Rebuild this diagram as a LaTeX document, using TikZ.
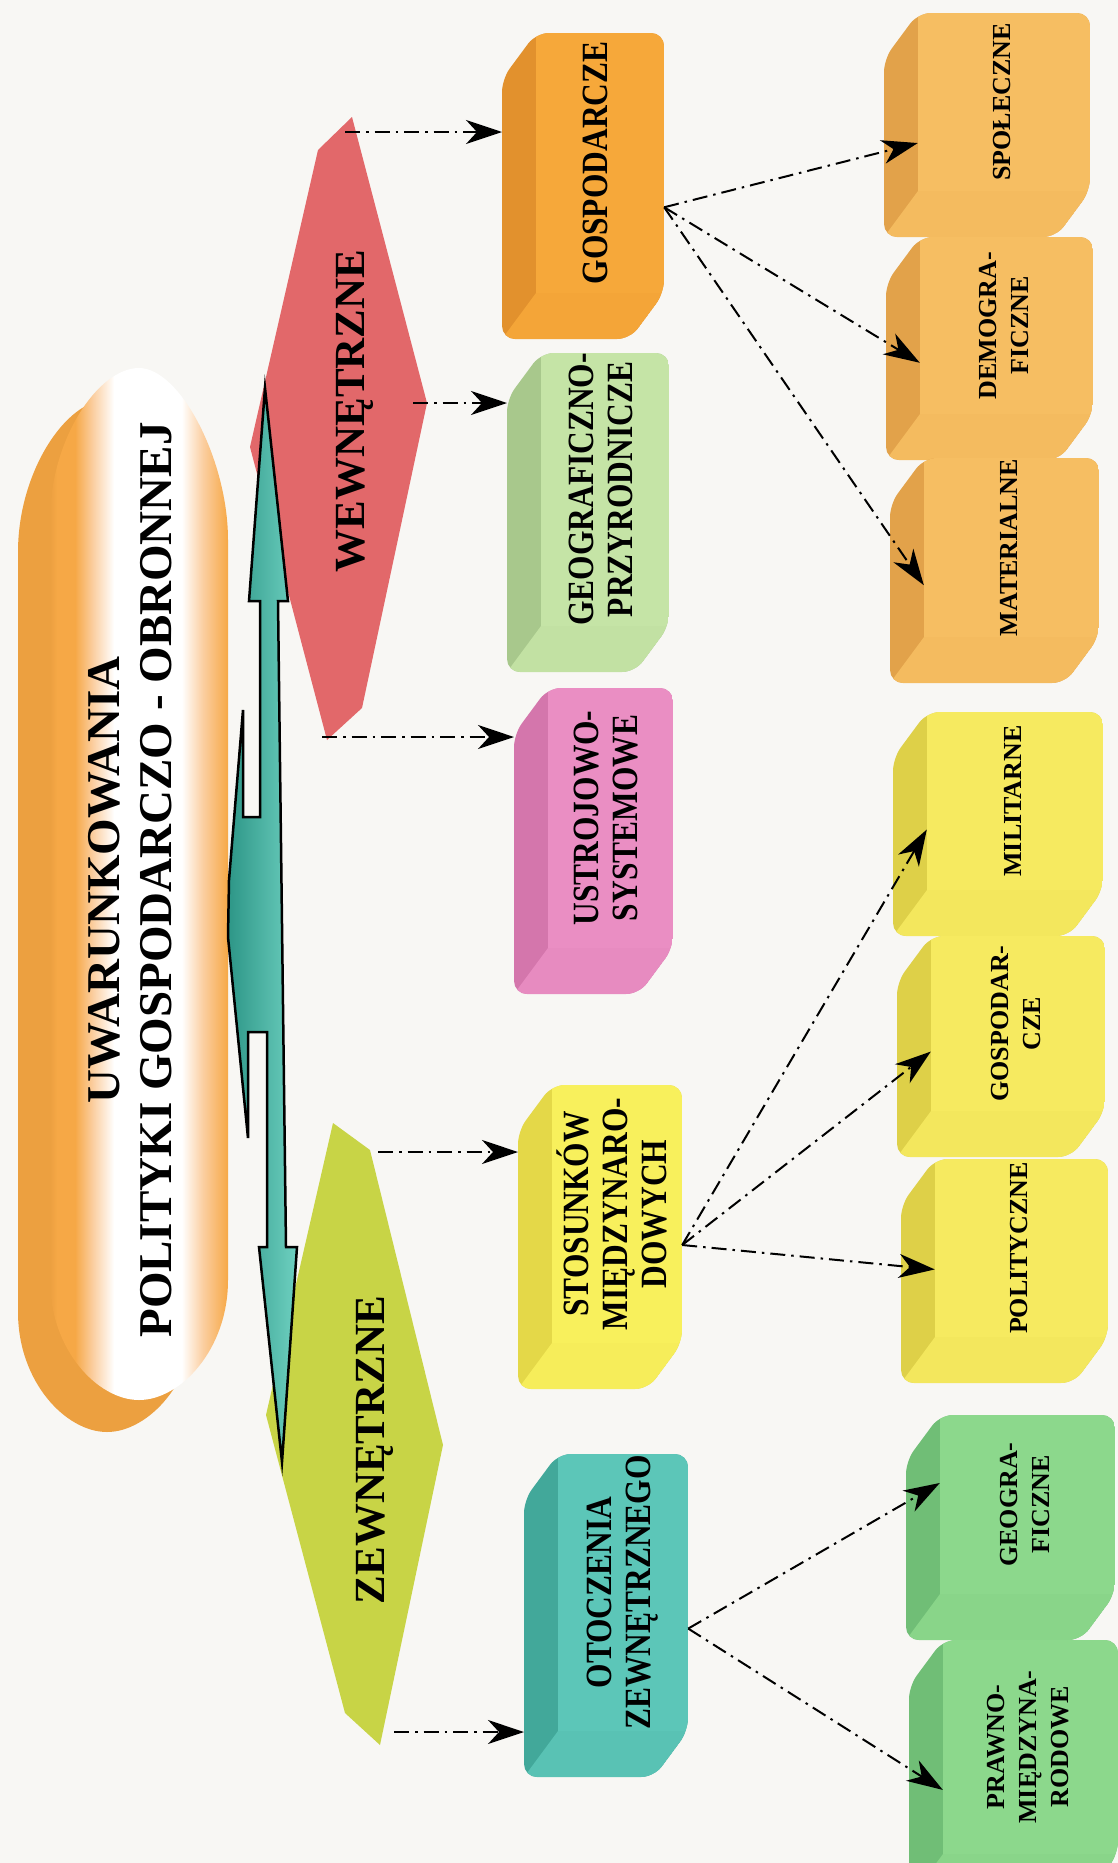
\documentclass[tikz,border=0pt]{standalone}
\usepackage{fontspec}
\usepackage{graphicx}
\setmainfont{Liberation Serif}
\newfontfamily\tnrc[FakeStretch=0.85]{Liberation Serif}
\usetikzlibrary{arrows.meta,calc}

\definecolor{paper}{RGB}{248,247,244}
\definecolor{pillside}{RGB}{236,160,64}
\definecolor{pillorange}{RGB}{246,168,70}
\definecolor{pilllight}{RGB}{251,206,160}
\definecolor{redw}{RGB}{226,104,106}
\definecolor{zewc}{RGB}{200,212,70}
\definecolor{tealdark}{RGB}{45,150,135}
\definecolor{teallight}{RGB}{110,208,192}
\definecolor{gospF}{RGB}{246,168,58}
\definecolor{gospS}{RGB}{226,145,45}
\definecolor{geogF}{RGB}{197,228,166}
\definecolor{geogS}{RGB}{168,200,140}
\definecolor{ustrF}{RGB}{234,142,195}
\definecolor{ustrS}{RGB}{212,118,172}
\definecolor{stosF}{RGB}{248,240,92}
\definecolor{stosS}{RGB}{228,216,72}
\definecolor{otocF}{RGB}{92,198,184}
\definecolor{otocS}{RGB}{66,168,154}
\definecolor{rorF}{RGB}{246,190,98}
\definecolor{rorS}{RGB}{226,162,74}
\definecolor{ryelF}{RGB}{246,234,96}
\definecolor{ryelS}{RGB}{222,208,72}
\definecolor{rgrnF}{RGB}{140,216,140}
\definecolor{rgrnS}{RGB}{112,190,118}

% the path spans 25bp..75bp of this shading
\pgfdeclarehorizontalshading{pillsh}{100bp}{color(0bp)=(pillside); color(25bp)=(pillside); color(27bp)=(pillorange); color(32bp)=(pillorange); color(37bp)=(pilllight); color(43bp)=(white); color(62bp)=(white); color(68bp)=(pilllight); color(75bp)=(pillorange); color(100bp)=(pillorange)}

\tikzset{
  titletext/.style={inner sep=0pt, font=\bfseries\fontsize{47}{52}\selectfont},
  shapetext/.style={inner sep=0pt, font=\bfseries\fontsize{43}{46}\selectfont},
  midtext/.style={inner sep=0pt, font=\tnrc\bfseries\fontsize{37}{39}\selectfont},
  righttext/.style={inner sep=0pt, font=\bfseries\fontsize{26}{32}\selectfont},
  link/.style={line width=2pt, dash pattern=on 15pt off 6pt on 2.5pt off 6pt,
    -{Stealth[length=36pt,width=24pt,inset=11pt]}}
}

% block with a darker left side and a bottom face
% #1 name, #2 left, #3 top, #4 right, #5 bottom, #6 front colour, #7 side colour, #8 text style, #9 text
\newcommand{\cubebox}[9]{%
  \begin{scope}
    \clip[rounded corners=13pt] (#2+34,#3) -- (#4,#3) -- (#4,#5-46) -- (#4-34,#5) -- (#2,#5) -- (#2,#3+46) -- cycle;
    \fill[#7] (#2,#3) rectangle (#4,#5);
    \fill[#6!88!#7] (#2+34,#5-46) -- (#4,#5-46) -- (#4-34,#5) -- (#2,#5) -- cycle;
    \fill[#6] (#2+34,#3) rectangle (#4,#5-46);
  \end{scope}
  \pgfmathsetmacro{\cbw}{#4-#2-34}%
  \pgfmathsetmacro{\cbh}{#5-#3-46}%
  \node[#8, minimum width=\cbw pt, minimum height=\cbh pt] (#1) at ({(#2+34+#4)/2},{(#3+#5-46)/2})
    {\rotatebox{90}{\begin{tabular}{@{}c@{}}#9\end{tabular}}};
  \coordinate (#1-sl) at (#2,#3+46);
}

\begin{document}
\begin{tikzpicture}[x=1pt,y=-1pt]
\fill[paper] (0,0) rectangle (1118,1863);
\useasboundingbox (0,0) rectangle (1118,1863);

% title capsule: extruded side, then shaded front
\fill[pillside] (18,552) -- (18,1312) .. controls (18,1382) and (66,1432) .. (107,1432)
  .. controls (148,1432) and (196,1382) .. (196,1312) -- (196,572)
  .. controls (196,492) and (148,400) .. (107,400)
  .. controls (66,400) and (18,472) .. (18,552) -- cycle;
\shade[shading=pillsh] (50,520) -- (50,1280) .. controls (50,1350) and (98,1400) .. (139,1400)
  .. controls (180,1400) and (228,1350) .. (228,1280) -- (228,540)
  .. controls (228,460) and (180,368) .. (139,368)
  .. controls (98,368) and (50,440) .. (50,520) -- cycle;
\node[titletext] (title) at (135,880)
  {\rotatebox{90}{\begin{tabular}{@{}c@{}}UWARUNKOWANIA\\POLITYKI GOSPODARCZO - OBRONNEJ\end{tabular}}};

% the two category shapes
\fill[redw] (352,117) -- (318,150) -- (250,447) -- (327,740) -- (362,708) -- (427,403) -- cycle;
\fill[zewc] (333,1123) -- (370,1150) -- (443,1445) -- (380,1745) -- (345,1713) -- (266,1415) -- cycle;

% double arrow between the categories
\shadedraw[line width=2.5pt, line join=miter, miter limit=20, left color=tealdark, right color=teallight, draw=black]
  (260,817) -- (260,601) -- (249,601) -- (265,388) -- (288,601) -- (278,601)
  -- (286,1247) -- (297,1247) -- (282,1462) -- (259,1247) -- (267,1247)
  -- (267,1032) -- (248,1032) -- (248,1138) -- (228,937) -- (229,880)
  -- (243,710) -- (243,817) -- cycle;

\node[shapetext] (wewn) at (355,411) {\rotatebox{90}{WEWNĘTRZNE}};
\node[shapetext] (zewn) at (375,1450) {\rotatebox{90}{ZEWNĘTRZNE}};

\coordinate (w-top) at (345,132);
\coordinate (w-right) at (413,403);
\coordinate (w-bot) at (322,737);
\coordinate (z-top) at (378,1152);
\coordinate (z-bot) at (394,1732);

% middle column
\cubebox{gosp}{502}{33}{664}{339}{gospF}{gospS}{midtext}{GOSPODARCZE}
\cubebox{geog}{507}{353}{669}{672}{geogF}{geogS}{midtext}{GEOGRAFICZNO-\\PRZYRODNICZE}
\cubebox{ustr}{514}{688}{673}{994}{ustrF}{ustrS}{midtext}{USTROJOWO-\\SYSTEMOWE}
\cubebox{stos}{518}{1085}{682}{1389}{stosF}{stosS}{midtext}{STOSUNKÓW\\MIĘDZYNARO-\\DOWYCH}
\cubebox{otoc}{524}{1454}{688}{1777}{otocF}{otocS}{midtext}{OTOCZENIA\\ZEWNĘTRZNEGO}

% right column
\cubebox{spol}{884}{13}{1090}{237}{rorF}{rorS}{righttext}{SPOŁECZNE}
\cubebox{demo}{886}{237}{1093}{460}{rorF}{rorS}{righttext}{DEMOGRA-\\FICZNE}
\cubebox{mate}{890}{458}{1099}{683}{rorF}{rorS}{righttext}{MATERIALNE}
\cubebox{mili}{893}{712}{1103}{936}{ryelF}{ryelS}{righttext}{MILITARNE}
\cubebox{gosc}{897}{936}{1105}{1157}{ryelF}{ryelS}{righttext}{GOSPODAR-\\CZE}
\cubebox{poli}{901}{1159}{1108}{1383}{ryelF}{ryelS}{righttext}{POLITYCZNE}
\cubebox{geof}{906}{1415}{1115}{1640}{rgrnF}{rgrnS}{righttext}{GEOGRA-\\FICZNE}
\cubebox{praw}{909}{1640}{1118}{1900}{rgrnF}{rgrnS}{righttext}{PRAWNO-\\MIĘDZYNA-\\RODOWE}

% connectors from the categories
\draw[link] (w-top) -- (w-top -| gosp-sl);
\draw[link] (w-right) -- (w-right -| geog-sl);
\draw[link] (w-bot) -- (w-bot -| ustr-sl);
\draw[link] (z-top) -- (z-top -| stos-sl);
\draw[link] (z-bot) -- (z-bot -| otoc-sl);

% fan-out connectors
\coordinate (gosp-o) at ($(gosp.north east)!0.67!(gosp.south east)$);
\draw[link] (gosp-o) -- ($(spol.north west)!0.73!(spol.south west)$);
\draw[link] (gosp-o) -- ($(demo.north west)!0.71!(demo.south west)$);
\draw[link] (gosp-o) -- ($(mate.north west)!0.71!(mate.south west)$);

\coordinate (stos-o) at ($(stos.north east)!0.62!(stos.south east)$);
\draw[link] (stos-o) -- ($(mili.north west)!0.66!(mili.south west)$);
\draw[link] (stos-o) -- ($(gosc.north west)!0.66!(gosc.south west)$);
\draw[link] (stos-o) -- ($(poli.north west)!0.62!(poli.south west)$);

\coordinate (otoc-o) at ($(otoc.north east)!0.63!(otoc.south east)$);
\draw[link] (otoc-o) -- ($(geof.north west)!0.38!(geof.south west)$);
\draw[link] (otoc-o) -- ($(praw.north west)!0.70!(praw.south west)$);
\end{tikzpicture}
\end{document}
